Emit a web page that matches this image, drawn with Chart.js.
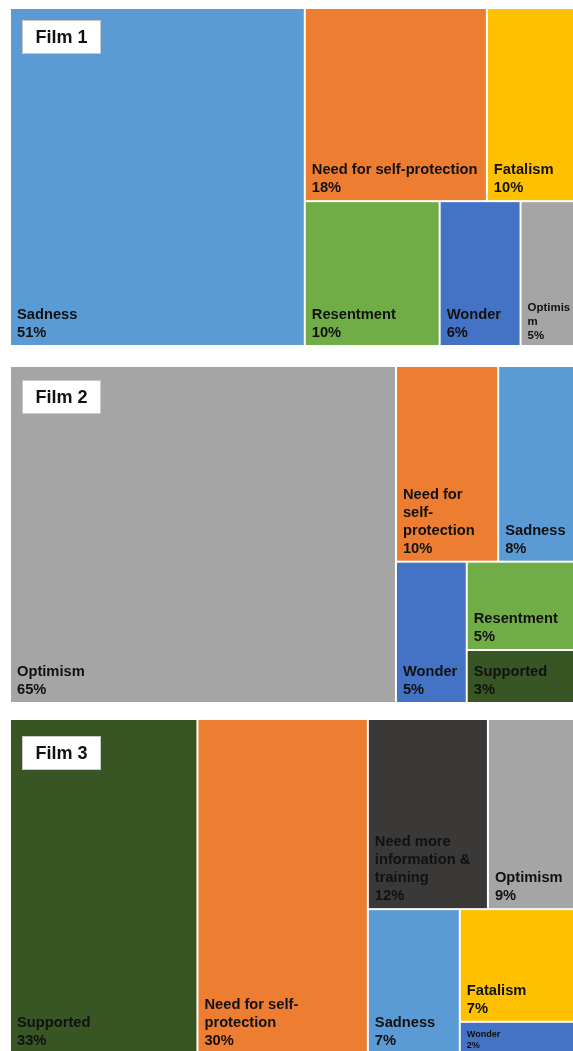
<!DOCTYPE html>
<html>
<head>
<meta charset="utf-8">
<title>Film treemaps</title>
<script src="https://cdn.jsdelivr.net/npm/chart.js@4.4.1/dist/chart.umd.min.js"></script>
<style>
  html, body { margin: 0; padding: 0; background: #fff; overflow: hidden; }
  body { width: 573px; height: 1051px; position: relative; }
  canvas { position: absolute; left: 10px; }
</style>
</head>
<body>
<canvas id="film1" width="578" height="338" style="top:8px"></canvas>
<canvas id="film2" width="570" height="337" style="top:366px"></canvas>
<canvas id="film3" width="568" height="335" style="top:719px"></canvas>
<script>
const filmTitles = ["Film 1", "Film 2", "Film 3"];

const film1Categories = ["Sadness", "Need for self-protection", "Fatalism", "Resentment", "Wonder", "Optimism"];
const film1Values = [51, 18, 10, 10, 6, 5];

const film2Categories = ["Optimism", "Need for self-protection", "Sadness", "Wonder", "Resentment", "Supported"];
const film2Values = [65, 10, 8, 5, 5, 3];

const film3Categories = ["Supported", "Need for self-protection", "Need more information & training", "Optimism", "Sadness", "Fatalism", "Wonder"];
const film3Values = [33, 30, 12, 9, 7, 7, 2];

const categoryColors = {
  "Sadness": "#5b9bd5",
  "Need for self-protection": "#ed7d31",
  "Fatalism": "#ffc000",
  "Resentment": "#70ad47",
  "Wonder": "#4472c4",
  "Optimism": "#a5a5a5",
  "Supported": "#375623",
  "Need more information & training": "#3b3838",
};

const BASE_FONT = 14.7;
const LINE_H = 18;
const PAD_L = 6, PAD_R = 4, PAD_B = 8;

function fontAt(size) {
  return "bold " + size + "px 'Liberation Sans', Arial, sans-serif";
}

// binary split: group the sorted items so each side holds about half the total,
// cut across the longer side (slight bias toward vertical cuts, like Excel)
function layout(items, x0, y0, x1, y1, pxX, pxY, out) {
  if (items.length === 1) {
    out.push({ item: items[0], x0, y0, x1, y1 });
    return;
  }
  const total = items.reduce((s, d) => s + d.value, 0);
  let best = 1, bestDiff = Infinity, run = 0;
  for (let k = 1; k < items.length; k++) {
    run += items[k - 1].value;
    const diff = Math.abs(run - total / 2);
    if (diff < bestDiff) { bestDiff = diff; best = k; }
  }
  const first = items.slice(0, best), rest = items.slice(best);
  const f = first.reduce((s, d) => s + d.value, 0) / total;
  const wPx = (x1 - x0) * pxX, hPx = (y1 - y0) * pxY;
  if (wPx * 1.12 >= hPx) {
    const xm = x0 + (x1 - x0) * f;
    layout(first, x0, y0, xm, y1, pxX, pxY, out);
    layout(rest, xm, y0, x1, y1, pxX, pxY, out);
  } else {
    const ym = y0 + (y1 - y0) * f;
    layout(first, x0, y0, x1, ym, pxX, pxY, out);
    layout(rest, x0, ym, x1, y1, pxX, pxY, out);
  }
}

function tokens(name) {
  const out = [];
  name.split(" ").forEach((word, wi) => {
    word.split(/(?<=-)/).forEach((p, pi) => {
      out.push({ text: p, joiner: (pi === 0 && wi > 0) ? " " : "" });
    });
  });
  return out;
}

function wrapName(ctx, name, avail) {
  const lines = [];
  let cur = "", broken = false;
  for (const tk of tokens(name)) {
    const cand = cur === "" ? tk.text : cur + tk.joiner + tk.text;
    if (ctx.measureText(cand).width <= avail) { cur = cand; continue; }
    if (cur !== "") lines.push(cur);
    let piece = tk.text;
    while (piece.length > 1 && ctx.measureText(piece).width > avail) {
      let k = piece.length - 1;
      while (k > 1 && ctx.measureText(piece.slice(0, k)).width > avail) k--;
      lines.push(piece.slice(0, k));
      piece = piece.slice(k);
      broken = true;
    }
    cur = piece;
  }
  if (cur !== "") lines.push(cur);
  return { lines, broken };
}

const treemapPlugin = {
  id: "treemapCells",
  afterDatasetsDraw(chart, args, opts) {
    const ctx = chart.ctx;
    const xs = chart.scales.x, ys = chart.scales.y;
    const pxX = Math.abs(xs.getPixelForValue(1) - xs.getPixelForValue(0));
    const pxY = Math.abs(ys.getPixelForValue(1) - ys.getPixelForValue(0));
    const items = opts.categories.map((c, i) => ({ name: c, value: opts.values[i] }));
    const cells = [];
    layout(items, xs.min, ys.min, xs.max, ys.max, pxX, pxY, cells);

    ctx.save();
    cells.forEach(cell => {
      const left = xs.getPixelForValue(cell.x0) + 1;
      const right = xs.getPixelForValue(cell.x1) - 1;
      const top = ys.getPixelForValue(cell.y0) + 1;
      const bottom = ys.getPixelForValue(cell.y1) - 1;
      const w = right - left, h = bottom - top;
      ctx.fillStyle = categoryColors[cell.item.name];
      ctx.fillRect(left, top, w, h);

      ctx.font = fontAt(BASE_FONT);
      const wrapped = wrapName(ctx, cell.item.name, w - PAD_L - PAD_R);
      const lines = wrapped.lines.concat([cell.item.value + "%"]);
      let scale = wrapped.broken ? 0.78 : 1;
      const needH = lines.length * LINE_H;
      if (needH > h - PAD_B) scale = Math.min(scale, (h - PAD_B) / needH);

      ctx.font = fontAt(BASE_FONT * scale);
      ctx.fillStyle = "#111";
      ctx.textAlign = "left";
      ctx.textBaseline = "alphabetic";
      const lastBase = bottom - PAD_B * scale;
      lines.forEach((ln, i) => {
        ctx.fillText(ln, left + PAD_L, lastBase - (lines.length - 1 - i) * LINE_H * scale);
      });
    });

    // film label box
    const bx = 12, by = opts.titleTop, bw = 79, bh = 34;
    ctx.fillStyle = "#fff";
    ctx.fillRect(bx, by, bw, bh);
    ctx.strokeStyle = "#c9c9c9";
    ctx.lineWidth = 1;
    ctx.strokeRect(bx + 0.5, by + 0.5, bw - 1, bh - 1);
    ctx.fillStyle = "#111";
    ctx.font = fontAt(18);
    ctx.textAlign = "center";
    ctx.textBaseline = "middle";
    ctx.fillText(opts.title, bx + bw / 2, by + bh / 2 + 1);
    ctx.restore();
  }
};

function makeFilm(canvasId, title, categories, values, titleTop) {
  return new Chart(document.getElementById(canvasId), {
    type: "scatter",
    data: { datasets: [{ label: title, data: [] }] },
    options: {
      responsive: false,
      animation: false,
      events: [],
      layout: { padding: 0 },
      scales: {
        x: { type: "linear", min: 0, max: 100, display: false },
        y: { type: "linear", min: 0, max: 100, reverse: true, display: false },
      },
      plugins: {
        legend: { display: false },
        tooltip: { enabled: false },
        treemapCells: { categories, values, title, titleTop },
      },
    },
    plugins: [treemapPlugin],
  });
}

makeFilm("film1", filmTitles[0], film1Categories, film1Values, 12);
makeFilm("film2", filmTitles[1], film2Categories, film2Values, 14);
makeFilm("film3", filmTitles[2], film3Categories, film3Values, 17);
</script>
</body>
</html>
